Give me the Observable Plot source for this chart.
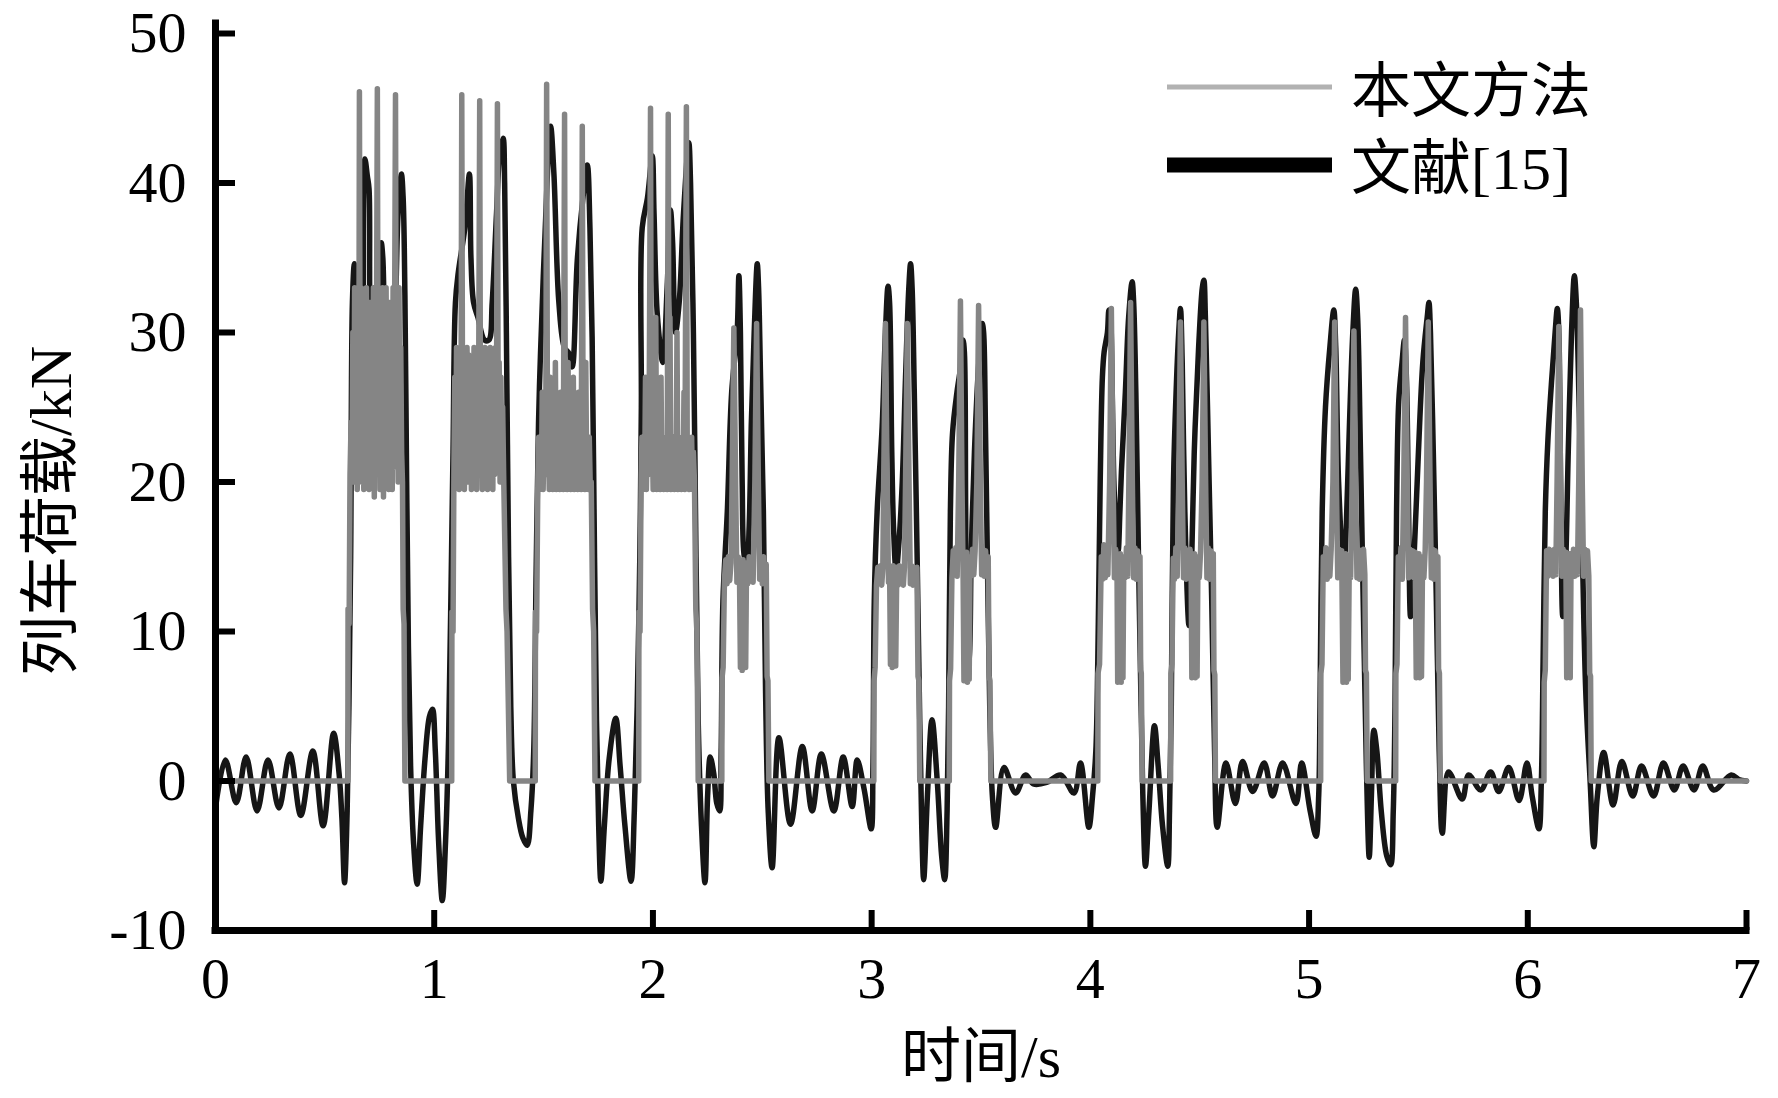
<!DOCTYPE html>
<html>
<head>
<meta charset="utf-8">
<script src="https://cdn.jsdelivr.net/npm/d3@7"></script>
<script src="https://cdn.jsdelivr.net/npm/@observablehq/plot@0.6"></script>
<style>
  html, body { margin: 0; padding: 0; background: #fff; }
  #chart svg { display: block; }
</style>
</head>
<body>
<div id="chart"></div>
<script>
// ---- tick values ----
const xTicks = [0, 1, 2, 3, 4, 5, 6, 7];
const yTicks = [-10, 0, 10, 20, 30, 40, 50];
const seriesNames = ["本文方法", "文献[15]"];
const xTitle = "时间/s";
const yTitle = "列车荷载/kN";

// ---- series 1: 本文方法 (time s, load kN) ----
const methodLoad = [
[0,0],[0.605,0],
[0.606,11.5],[0.611,10.5],[0.615,20.5],[0.620,24],[0.624,21],[0.628,30],[0.632,20],[0.636,33],[0.640,22],[0.644,28],[0.648,19.5],[0.652,26],[0.655,21],[0.658,46.1],[0.662,22],[0.666,33],[0.670,20],[0.674,31],[0.678,19.5],[0.682,29],[0.686,22],[0.690,33],[0.694,20],[0.698,30],[0.702,19.5],[0.706,32],[0.710,21],[0.714,28],[0.718,20],[0.722,33],[0.726,19],[0.730,30],[0.734,22],[0.740,46.3],[0.744,21],[0.748,32],[0.752,19.5],[0.756,29],[0.760,21],[0.764,33],[0.768,19],[0.772,30],[0.776,22],[0.780,33],[0.784,20],[0.788,28],[0.792,19.5],[0.796,32],[0.800,21],[0.804,30],[0.808,19.5],[0.812,33],[0.816,21],[0.823,45.9],[0.827,22],[0.831,31],[0.835,20],[0.839,33],[0.843,21],[0.847,29],[0.851,22],[0.855,20],[0.858,11.5],[0.862,10.5],[0.866,0],
[1.080,0],
[1.081,11.3],[1.086,10],[1.090,20.5],[1.094,27],[1.098,20],[1.102,29],[1.106,21],[1.110,26],[1.114,19.5],[1.118,28],[1.122,21],[1.126,45.9],[1.130,22],[1.134,28],[1.138,19.5],[1.142,27],[1.146,21],[1.150,29],[1.154,20],[1.158,28.5],[1.162,20.5],[1.166,27],[1.170,19.5],[1.174,28],[1.178,21],[1.182,29],[1.186,20],[1.190,26],[1.194,19.5],[1.198,28],[1.202,22],[1.208,45.5],[1.212,21],[1.216,29],[1.220,19.5],[1.224,27],[1.228,20.5],[1.232,29],[1.236,21],[1.240,26],[1.244,19.5],[1.248,28],[1.252,20],[1.256,29],[1.260,21],[1.264,27],[1.268,19.5],[1.272,28],[1.276,20.5],[1.280,29],[1.284,22],[1.289,45.3],[1.293,21],[1.297,28],[1.301,20],[1.305,27],[1.309,21],[1.313,25],[1.318,20],[1.328,11.5],[1.333,10],[1.345,0],
[1.462,0],
[1.463,11.3],[1.468,10],[1.474,20.5],[1.478,23],[1.482,19.5],[1.486,22],[1.490,20],[1.494,26],[1.498,19.5],[1.502,23],[1.506,20.5],[1.510,22],[1.514,46.6],[1.518,21],[1.522,23],[1.526,19.5],[1.530,27],[1.534,20],[1.538,22.5],[1.542,19.5],[1.546,23],[1.550,20.5],[1.554,28],[1.558,19.5],[1.562,22],[1.566,20],[1.570,23],[1.574,19.5],[1.578,26],[1.582,20.5],[1.586,22],[1.590,19.5],[1.596,44.6],[1.600,20],[1.604,23],[1.608,19.5],[1.612,28],[1.616,20.5],[1.620,22],[1.624,19.5],[1.628,23],[1.632,20],[1.636,27],[1.640,19.5],[1.644,22.5],[1.648,20.5],[1.652,23],[1.656,19.5],[1.660,26],[1.664,20],[1.668,22],[1.672,19.5],[1.677,43.8],[1.681,21],[1.685,23],[1.689,19.5],[1.693,28],[1.697,20.5],[1.701,22],[1.705,19.5],[1.709,23],[1.713,20],[1.718,20],[1.724,11.5],[1.729,10],[1.735,0],
[1.935,0],
[1.936,11.3],[1.941,10],[1.946,20.5],[1.950,23],[1.954,19.5],[1.958,22],[1.962,20],[1.966,27],[1.970,19.5],[1.974,23],[1.978,20.5],[1.982,22],[1.989,45],[1.993,21],[1.997,23],[2.001,19.5],[2.005,22.5],[2.009,20],[2.013,31],[2.017,19.5],[2.021,23],[2.025,20.5],[2.029,22],[2.033,19.5],[2.037,27],[2.041,20],[2.045,23],[2.049,19.5],[2.053,22],[2.057,20.5],[2.061,23],[2.065,19.5],[2.070,44.6],[2.074,20],[2.078,31],[2.082,19.5],[2.086,22.5],[2.090,20.5],[2.094,23],[2.098,19.5],[2.102,22],[2.106,20],[2.110,30],[2.114,19.5],[2.118,23],[2.122,20.5],[2.126,22],[2.130,19.5],[2.134,23],[2.138,20],[2.142,26],[2.146,19.5],[2.153,45.1],[2.157,21],[2.161,23],[2.165,19.5],[2.169,22],[2.173,20.5],[2.177,23],[2.181,19.5],[2.185,22],[2.190,20],[2.196,11.5],[2.201,10],[2.207,0],
[2.315,0],
[2.316,6.9],[2.321,7.6],[2.327,13.5],[2.333,14.8],[2.339,13.2],[2.345,15],[2.351,13.4],[2.357,14.6],[2.362,20],[2.370,30.3],[2.378,20],[2.384,13.3],[2.390,15],[2.396,13.5],[2.400,7.6],[2.404,14.5],[2.408,7.4],[2.412,14.8],[2.416,7.8],[2.420,14.4],[2.424,7.6],[2.428,14.6],[2.434,13.2],[2.440,15],[2.446,13.4],[2.452,14.8],[2.458,13.3],[2.466,20],[2.474,30.6],[2.482,20],[2.488,13.5],[2.494,14.8],[2.500,13.2],[2.506,15],[2.512,13.5],[2.518,14.5],[2.522,7],[2.526,6.7],[2.530,0],
[3.010,0],
[3.011,6.7],[3.016,7.6],[3.022,13.1],[3.028,14.3],[3.034,13.2],[3.040,14.4],[3.046,13.1],[3.051,14.2],[3.055,20],[3.063,30.6],[3.071,20],[3.077,13.3],[3.082,14.3],[3.086,7.8],[3.090,14.2],[3.094,7.6],[3.098,14.4],[3.102,7.9],[3.106,14.1],[3.110,7.7],[3.115,14.3],[3.121,13.1],[3.127,14.4],[3.133,13.2],[3.139,14.2],[3.145,13.1],[3.150,14.3],[3.155,20],[3.163,30.6],[3.171,20],[3.177,13.2],[3.183,14.4],[3.189,13.1],[3.195,14.2],[3.201,13.3],[3.207,14.3],[3.212,7],[3.216,6.7],[3.220,0],
[3.355,0],
[3.356,6.7],[3.361,7.5],[3.367,13.6],[3.373,15.4],[3.379,13.8],[3.385,15.6],[3.391,13.7],[3.398,20],[3.406,32.1],[3.413,20],[3.418,14],[3.422,6.7],[3.426,15],[3.430,6.9],[3.434,15.3],[3.438,6.6],[3.442,15],[3.446,6.8],[3.450,14.8],[3.455,13.7],[3.461,15.5],[3.467,13.8],[3.473,15.4],[3.481,20],[3.489,31.8],[3.497,20],[3.503,13.8],[3.509,15.5],[3.515,13.7],[3.521,15.4],[3.527,13.8],[3.533,15],[3.537,7],[3.541,6.7],[3.545,0],
[4.034,0],
[4.035,7.2],[4.042,7.8],[4.050,15],[4.056,13.5],[4.062,15.8],[4.068,13.6],[4.074,15.6],[4.080,13.8],[4.088,20],[4.096,31.6],[4.104,20],[4.110,13.6],[4.116,15.5],[4.122,13.8],[4.125,6.6],[4.129,15],[4.133,6.8],[4.137,15.2],[4.141,6.6],[4.145,14.8],[4.149,6.9],[4.153,15],[4.159,13.6],[4.165,15.6],[4.171,13.7],[4.176,20],[4.184,32],[4.192,20],[4.198,13.6],[4.204,15.6],[4.210,13.5],[4.216,15.4],[4.222,13.8],[4.227,15],[4.230,7.4],[4.233,7.2],[4.237,0],
[4.367,0],
[4.368,7.2],[4.373,7.8],[4.379,14.9],[4.385,13.5],[4.391,15.6],[4.397,13.7],[4.404,20],[4.412,30.7],[4.420,20],[4.426,13.6],[4.432,15.6],[4.438,13.5],[4.444,15.4],[4.450,13.7],[4.456,15.5],[4.461,13.6],[4.464,6.9],[4.468,15],[4.472,7.1],[4.476,15.2],[4.480,6.9],[4.484,14.9],[4.488,7],[4.492,15],[4.498,13.6],[4.504,15.4],[4.511,20],[4.519,30.7],[4.527,20],[4.533,13.6],[4.539,15.6],[4.545,13.5],[4.551,15.4],[4.557,13.7],[4.562,15.2],[4.565,7.4],[4.569,7.1],[4.572,0],
[5.053,0],
[5.054,7.2],[5.059,7.8],[5.065,15],[5.071,13.6],[5.077,15.6],[5.083,13.5],[5.089,15.4],[5.095,13.7],[5.101,15.5],[5.109,20],[5.117,30.7],[5.125,20],[5.131,13.6],[5.137,15.5],[5.143,13.7],[5.149,15.4],[5.155,6.6],[5.159,15],[5.163,6.8],[5.167,15.2],[5.171,6.6],[5.175,14.9],[5.179,6.8],[5.184,15],[5.190,13.6],[5.197,20],[5.205,30.1],[5.213,20],[5.219,13.6],[5.225,15.5],[5.231,13.5],[5.237,15.4],[5.243,13.7],[5.249,15.5],[5.255,13.8],[5.258,7.4],[5.262,7.2],[5.266,0],
[5.396,0],
[5.397,7.2],[5.402,7.8],[5.408,15],[5.414,13.6],[5.420,15.6],[5.426,13.5],[5.433,20],[5.441,31],[5.449,20],[5.455,13.6],[5.461,15.5],[5.467,13.7],[5.473,15.4],[5.479,13.6],[5.485,15.3],[5.490,6.9],[5.494,15],[5.498,7.1],[5.502,15.2],[5.506,6.9],[5.510,14.9],[5.514,7],[5.519,15],[5.525,13.6],[5.531,15.5],[5.537,20],[5.545,30.7],[5.553,20],[5.559,13.6],[5.565,15.5],[5.571,13.5],[5.577,15.4],[5.583,13.7],[5.589,15],[5.592,7.5],[5.596,7.2],[5.600,0],
[6.074,0],
[6.075,6.6],[6.080,7.4],[6.086,15.4],[6.092,13.7],[6.098,15.5],[6.104,13.8],[6.110,15.4],[6.116,13.7],[6.122,15.5],[6.128,13.8],[6.134,20],[6.142,30.4],[6.150,20],[6.156,13.7],[6.162,15.5],[6.168,13.8],[6.174,15.3],[6.178,6.9],[6.182,15],[6.186,7.1],[6.190,15.2],[6.194,6.9],[6.198,15],[6.203,13.8],[6.209,15.5],[6.215,13.7],[6.221,15.4],[6.227,13.8],[6.233,20],[6.241,31.5],[6.249,20],[6.255,13.7],[6.261,15.5],[6.267,13.8],[6.273,15.4],[6.279,13.7],[6.283,7.2],[6.287,7],[6.290,0],
[7.0,0]
];

// ---- series 2: 文献[15] (time s, load kN) ----
const referenceLoad = [
[0.000,-1.8],[0.045,1.4],[0.095,-1.45],[0.140,1.6],[0.190,-2.0],[0.240,1.4],[0.290,-1.8],[0.340,1.8],[0.390,-2.3],[0.445,2.0],[0.492,-3.0],[0.540,3.2],[0.565,0.5],[0.578,-2.5],[0.590,-6.8],[0.602,-2],
[0.610,5],[0.618,15],[0.626,32],[0.635,34.6],[0.650,30],[0.668,28],[0.683,41.6],[0.694,40.5],[0.702,39.6],[0.707,31],[0.725,27],[0.748,30],[0.758,36],[0.765,35],[0.772,31.7],[0.790,28],[0.815,30],[0.835,38],[0.850,40.6],[0.858,39],[0.866,32.5],[0.874,20],[0.882,9],[0.892,1],
[0.905,-4],[0.922,-6.9],[0.938,-3],[0.958,1.5],[0.978,4.3],[0.992,4.8],[1.005,2],[1.020,-4],[1.037,-8],[1.052,-4],
[1.066,3],[1.076,12],[1.086,22],[1.097,32],[1.110,34],[1.140,37],[1.161,40.6],[1.168,35],[1.180,32],[1.200,31],[1.230,29.5],[1.250,29.5],[1.265,32],[1.285,38],[1.300,42],[1.315,43],[1.322,40],[1.330,30],[1.340,15],[1.350,5],[1.362,0],
[1.385,-2.5],[1.405,-3.8],[1.425,-4.3],[1.442,-2],
[1.455,2],[1.466,14],[1.477,24],[1.486,28.6],[1.505,36],[1.532,43.8],[1.547,40.7],[1.570,32],[1.595,29],[1.616,28.6],[1.631,27.7],[1.654,34.8],[1.680,39],[1.700,41.2],[1.712,37],[1.722,29.7],[1.733,15],[1.742,4],
[1.752,-3],[1.762,-6.7],[1.778,-3],[1.800,1.5],[1.830,4.2],[1.850,1],[1.872,-3],[1.900,-6.7],[1.915,-2],
[1.928,5],[1.940,15],[1.947,25],[1.951,37],[1.975,39],[1.997,41.8],[2.005,38],[2.020,31.2],[2.045,28],[2.065,33],[2.080,38.2],[2.090,36],[2.103,30],[2.120,32],[2.140,38],[2.164,42.7],[2.172,40],[2.185,30],[2.197,15],[2.207,4],
[2.222,-3],[2.238,-6.8],[2.250,-1],[2.262,1.6],[2.278,0.5],[2.292,-1.5],[2.305,-2],
[2.312,2],[2.320,12],[2.340,18],[2.360,26],[2.385,30],[2.393,33.8],[2.400,30],[2.408,20],[2.418,15],[2.430,14.5],[2.440,17],[2.450,24],[2.463,30],[2.477,34.6],[2.483,33],[2.492,27],[2.505,18],[2.515,6],[2.527,-2],
[2.545,-5.8],[2.576,2.9],[2.629,-2.9],[2.683,2.3],[2.728,-2],[2.770,1.8],[2.827,-2],[2.870,1.6],[2.911,-1.7],[2.934,1.4],[2.965,-0.5],[2.998,-3.2],
[3.006,1],[3.012,12],[3.025,18],[3.048,23.7],[3.063,30],[3.075,33.1],[3.082,32],[3.092,22],[3.100,17],[3.112,14],[3.125,16],[3.140,20],[3.155,27],[3.170,33],[3.178,34.6],[3.185,33],[3.195,26],[3.208,15],[3.220,4],
[3.229,-3],[3.238,-6.6],[3.255,-1],[3.276,4.1],[3.300,0],[3.320,-5],[3.334,-6.6],[3.345,-2],
[3.352,5],[3.360,18],[3.370,23.3],[3.390,26],[3.410,28],[3.418,29.5],[3.424,28.7],[3.430,18],[3.437,7.5],[3.445,8],[3.455,15],[3.470,22],[3.490,28],[3.506,30.6],[3.512,30],[3.520,24],[3.530,14],[3.540,5],[3.552,-1],
[3.567,-3.1],[3.605,0.9],[3.658,-0.8],[3.704,0.4],[3.740,-0.2],[3.800,-0.1],[3.864,0.4],[3.925,-0.8],[3.955,1.2],[3.993,-3.1],[4.010,-1],[4.025,2],
[4.034,8],[4.045,20],[4.055,27],[4.063,28.7],[4.078,30],[4.085,31.5],[4.092,31],[4.100,26],[4.110,19],[4.127,15.4],[4.135,18],[4.142,20.7],[4.160,26],[4.175,31],[4.191,33.4],[4.198,32],[4.208,26],[4.220,15],[4.232,5],[4.240,-1],
[4.252,-5.7],[4.268,-2],[4.293,3.7],[4.310,1],[4.330,-3],[4.354,-5.7],[4.362,-2],
[4.370,5],[4.380,20],[4.392,26],[4.404,30],[4.412,31.6],[4.420,28],[4.432,18],[4.451,10.4],[4.462,14],[4.475,22],[4.495,29],[4.512,33],[4.519,33.5],[4.526,31],[4.540,22],[4.555,12],[4.568,2],
[4.580,-3.1],[4.620,1.2],[4.663,-1.5],[4.696,1.3],[4.742,-0.7],[4.795,1.2],[4.833,-1],[4.879,1.2],[4.940,-1.5],[4.966,1.2],[5.005,-2],[5.032,-3.7],[5.044,-1],
[5.050,5],[5.060,18],[5.075,25],[5.095,29],[5.113,31.5],[5.122,29],[5.135,20],[5.159,13.7],[5.170,17],[5.185,24],[5.200,30],[5.213,32.9],[5.222,31],[5.235,22],[5.250,10],[5.262,1],
[5.275,-5.1],[5.285,-1],[5.296,3.4],[5.310,2],[5.330,-2],[5.355,-5],[5.373,-5.6],[5.385,-2],
[5.393,5],[5.400,18],[5.410,25.4],[5.425,28],[5.436,29.5],[5.445,27],[5.455,18],[5.464,11],[5.480,15],[5.500,22],[5.520,28],[5.540,31],[5.548,32],[5.555,30],[5.568,22],[5.582,12],[5.595,2],
[5.609,-3.5],[5.638,0.6],[5.700,-1.2],[5.730,0.4],[5.785,-0.6],[5.830,0.6],[5.867,-0.7],[5.913,0.9],[5.960,-1.3],[5.996,1.2],[6.020,-1],[6.051,-3.2],[6.062,0],
[6.070,8],[6.080,18],[6.092,22.8],[6.110,27],[6.125,30],[6.135,31.6],[6.142,30],[6.150,20],[6.160,11],[6.172,14],[6.185,22],[6.200,30],[6.213,33.8],[6.222,32],[6.235,25],[6.250,15],[6.265,6],[6.285,0],
[6.302,-4.4],[6.318,-1],[6.347,1.9],[6.390,-1.6],[6.430,1.3],[6.480,-1],[6.520,1.0],[6.575,-1],[6.620,1.2],[6.670,-0.6],[6.710,1.0],[6.760,-0.6],[6.800,1.0],[6.850,-0.6],[6.930,0.4],[6.965,0.1],[7.0,0]
];

const serif = '"Liberation Serif", "Times New Roman", "Noto Sans CJK SC", serif';

const chart = Plot.plot({
  width: 1778,
  height: 1098,
  marginLeft: 215,
  marginRight: 32,
  marginTop: 33,
  marginBottom: 168,
  x: { domain: [0, 7] },
  y: { domain: [-10, 50] },
  style: { fontFamily: serif, fontSize: "58px", color: "#000", background: "#fff", overflow: "visible" },
  marks: [
    Plot.line(referenceLoad, { x: d => d[0], y: d => d[1], stroke: "#161616", strokeWidth: 5.5, curve: "catmull-rom", strokeLinejoin: "round" }),
    Plot.line(methodLoad, { x: d => d[0], y: d => d[1], stroke: "#858585", strokeWidth: 5.5, strokeLinejoin: "round" }),
    Plot.ruleX([0], { y1: -10, y2: 50.9, stroke: "#000", strokeWidth: 7 }),
    Plot.ruleY([-10], { x1: 0, x2: 7, stroke: "#000", strokeWidth: 7, strokeLinecap: "square" }),
    Plot.axisY(yTicks, { tickSize: -20, tickPadding: 49, strokeWidth: 6, fontSize: 58, label: null, tickFormat: d => String(d) }),
    Plot.axisX(xTicks, { tickSize: -20, tickPadding: 46, strokeWidth: 6, fontSize: 58, label: null, tickFormat: d => String(d) }),
    Plot.text([yTitle], { frameAnchor: "left", textAnchor: "middle", lineAnchor: "middle", dx: -164, dy: 29, rotate: -90, fontSize: 60 }),
    Plot.text([xTitle], { frameAnchor: "bottom", textAnchor: "middle", lineAnchor: "middle", dy: 127, fontSize: 60 })
  ]
});

document.getElementById("chart").appendChild(chart);

// ---- legend ----
const svg = d3.select(chart);
const legend = svg.append("g").attr("class", "legend");
const legendItems = [
  { name: seriesNames[0], stroke: "#b2b2b2", width: 5, y: 87, base: 112 },
  { name: seriesNames[1], stroke: "#000000", width: 15, y: 165, base: 189 }
];
legendItems.forEach(it => {
  legend.append("line")
    .attr("x1", 1167).attr("x2", 1332)
    .attr("y1", it.y).attr("y2", it.y)
    .attr("stroke", it.stroke).attr("stroke-width", it.width);
  legend.append("text")
    .attr("x", 1351).attr("y", it.base)
    .attr("text-anchor", "start")
    .attr("font-family", serif).attr("font-size", 60)
    .attr("fill", "#000")
    .text(it.name);
});
</script>
</body>
</html>
